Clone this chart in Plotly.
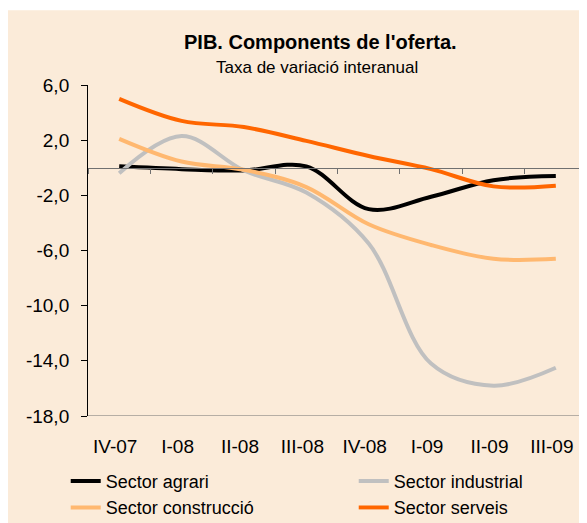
import plotly.graph_objects as go

# trimestres i taxes de variació interanual (%)
trimestres = ['IV-07', 'I-08', 'II-08', 'III-08', 'IV-08', 'I-09', 'II-09', 'III-09']
sector_agrari = [0.1, -0.1, -0.2, 0.1, -3.0, -2.1, -0.9, -0.6]
sector_industrial = [-0.4, 2.3, -0.2, -1.8, -5.5, -14.2, -15.8, -14.5]
sector_construccio = [2.1, 0.45, -0.15, -1.4, -4.1, -5.6, -6.6, -6.6]
sector_serveis = [5.0, 3.4, 2.95, 1.95, 0.85, -0.1, -1.35, -1.3]

eix_y_valors = [6, 2, -2, -6, -10, -14, -18]
eix_y_etiquetes = ['6,0', '2,0', '-2,0', '-6,0', '-10,0', '-14,0', '-18,0']

series = [
    ('Sector agrari', sector_agrari, '#000000'),
    ('Sector industrial', sector_industrial, '#C0C0C0'),
    ('Sector construcció', sector_construccio, '#FFB870'),
    ('Sector serveis', sector_serveis, '#FF6600'),
]

FONT = 'Arial, Liberation Sans, sans-serif'
BEIGE = '#FBEBD9'

fig = go.Figure()
for nom, valors, color in series:
    fig.add_trace(go.Scatter(x=trimestres, y=valors, name=nom, mode='lines',
                             line=dict(color=color, width=4, shape='spline', smoothing=1)))

# eix auxiliar només per a les etiquetes de categoria, a la part de baix
fig.add_trace(go.Scatter(x=trimestres, y=[-18] * len(trimestres), xaxis='x2', mode='markers',
                         marker=dict(opacity=0), showlegend=False, hoverinfo='skip'))

fig.update_layout(
    width=579, height=515,
    template='none',
    paper_bgcolor=BEIGE, plot_bgcolor='rgba(0,0,0,0)',
    margin=dict(l=0, r=0, t=77, b=107),
    font=dict(family=FONT, size=18, color='black'),
    showlegend=True,
    legend=dict(orientation='h', xref='container', yref='container',
                x=0.0997, xanchor='left', y=0.1169, yanchor='top',
                entrywidth=243, bgcolor='rgba(0,0,0,0)', font=dict(size=18)),
    xaxis=dict(domain=[0.1382, 1], type='category', range=[-0.5, 7.5],
               anchor='free', position=0.75, showline=True, linecolor='#707070', linewidth=1,
               ticks='outside', tickson='boundaries', ticklen=5, tickcolor='#707070',
               showticklabels=False, showgrid=False, zeroline=False, automargin=False),
    xaxis2=dict(domain=[0.1313, 0.9931], type='category', range=[-0.5, 7.5],
                anchor='free', position=0, showline=False, ticks='', showgrid=False,
                zeroline=False, ticklabelstandoff=17, tickfont=dict(size=19),
                automargin=False),
    yaxis=dict(range=[-18, 6], tickvals=eix_y_valors, ticktext=eix_y_etiquetes, anchor='x',
               showline=True, linecolor='black', linewidth=1, ticks='outside',
               ticklen=6, tickcolor='black', showgrid=False, zeroline=False,
               tickfont=dict(size=19), ticklabelstandoff=8, automargin=False),
    shapes=[
        dict(type='line', xref='paper', yref='y', x0=0.1382, x1=1, y0=-18, y1=-18,
             line=dict(color='#707070', width=1)),
        dict(type='rect', xref='paper', yref='paper', x0=-0.1, x1=1.1, y0=1.2257, y1=2,
             fillcolor='white', line_width=0, layer='below'),
    ],
    annotations=[
        dict(text="<b>PIB. Components de l'oferta.</b>", xref='paper', yref='paper',
             x=0.539, y=1.130, xanchor='center', yanchor='middle', showarrow=False,
             font=dict(size=20)),
        dict(text='Taxa de variació interanual', xref='paper', yref='paper',
             x=0.5345, y=1.0535, xanchor='center', yanchor='middle', showarrow=False,
             font=dict(size=17)),
    ],
)

fig.write_html('out.html')
